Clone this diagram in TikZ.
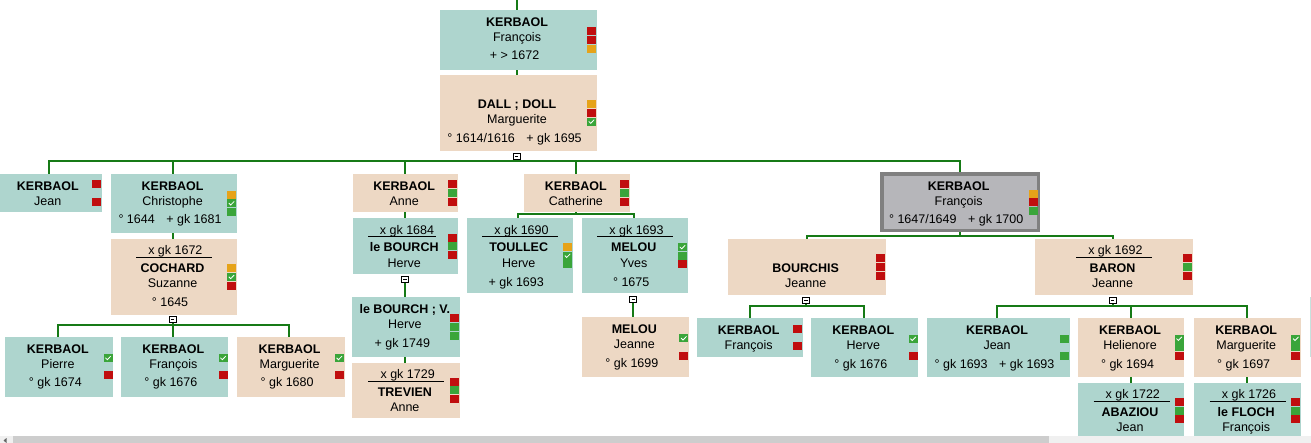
\documentclass[tikz,border=0pt]{standalone}
\usepackage{fontspec}
\setmainfont{Liberation Sans}
\usetikzlibrary{backgrounds}
\definecolor{teal1}{RGB}{174,213,206}
\definecolor{peach}{RGB}{237,216,196}
\definecolor{selg}{RGB}{182,182,186}
\definecolor{selb}{RGB}{128,128,128}
\definecolor{sqr}{RGB}{192,14,14}
\definecolor{sqg}{RGB}{58,165,58}
\definecolor{sqo}{RGB}{230,163,25}
\definecolor{lineg}{RGB}{22,122,22}
\definecolor{sbtrack}{RGB}{240,240,240}
\definecolor{sbthumb}{RGB}{205,205,205}
\tikzset{
  pbox/.style={rectangle, inner sep=0pt, outer sep=0pt, draw=none, anchor=north west},
  tealbox/.style={pbox, fill=teal1},
  peachbox/.style={pbox, fill=peach},
  selbox/.style={pbox, fill=selg, draw=selb, line width=3.5pt},
  tx/.style={anchor=base, inner sep=0pt, outer sep=0pt, font=\fontsize{12.5}{15}\selectfont, text=black},
  nm/.style={tx, font=\fontsize{12.5}{15}\selectfont\bfseries},
  sqbase/.style={rectangle, anchor=north east, minimum width=9pt, minimum height=8pt, inner sep=0pt, outer sep=0pt, draw=none},
  sqR/.style={sqbase, fill=sqr},
  sqG/.style={sqbase, fill=sqg},
  sqO/.style={sqbase, fill=sqo},
  sqC/.style={sqbase, fill=sqg, path picture={\draw[white, line width=0.8pt] ([shift={(-2.7,-0.2)}]path picture bounding box.center) -- ++(1.9,1.9) -- ++(3.5,-3.6);}},
  conn/.style={draw=lineg, line width=2.2pt},
  minusbox/.style={rectangle, draw=black, fill=white, line width=0.9pt, minimum width=7.2pt, minimum height=6.2pt, inner sep=0pt, path picture={\draw[black, line width=0.9pt] ([xshift=-1.7pt]path picture bounding box.center) -- ([xshift=1.7pt]path picture bounding box.center);}},
}
\newcommand\PBox[6]{\node[#2, minimum width={(#5)-(#3)}, minimum height={(#6)-(#4)}] (#1) at (#3,#4) {};}
\newcommand\DGap{\hspace{11.5pt}}
\newcommand\MLine[3]{\makebox[0pt]{\kern#3pt\kern#3pt\rule[-3pt]{#2pt}{1pt}}\makebox[0pt]{\kern2.6pt #1}}
\newcommand\TxtA[4]{%
  \node[nm] (#1-n) at ([shift={(-1.3,16.3)}]#1.north) {#2};
  \node[tx] (#1-f) at ([shift={(-1.3,31.6)}]#1.north) {#3};
  \if\relax\detokenize{#4}\relax\else\node[tx] (#1-d) at ([shift={(-3.8,49.8)}]#1.north) {#4};\fi}
\newcommand\TxtB[5]{%
  \if\relax\detokenize{#2}\relax\else\node[tx] (#1-m) at ([shift={(0.2,16)}]#1.north) {#2};\fi
  \node[nm] (#1-n) at ([shift={(-1.3,33.5)}]#1.north) {#3};
  \node[tx] (#1-f) at ([shift={(-1.3,48.8)}]#1.north) {#4};
  \if\relax\detokenize{#5}\relax\else\node[tx] (#1-d) at ([shift={(-3.8,68)}]#1.north) {#5};\fi}
\newcommand\SqOne[3]{\if\relax\detokenize{#3}\relax\else\node[sq#3] (#1-s#2) at ([shift={(-0.7,-12.7+8.65*#2)}]#1.east) {};\fi}
\newcommand\SqSet[4]{\SqOne{#1}{0}{#2}\SqOne{#1}{1}{#3}\SqOne{#1}{2}{#4}}
\begin{document}
\begin{tikzpicture}[x=1pt,y=-1pt]
\useasboundingbox (0,0) rectangle (1311,443);
% boxes
\PBox{b1}{tealbox}{440}{10}{596.7}{70}
\PBox{b2}{peachbox}{440}{75}{596.7}{151}
\PBox{jean}{tealbox}{-3.5}{174}{101.7}{212.3}
\PBox{chris}{tealbox}{111}{174}{236.7}{232.7}
\PBox{coch}{peachbox}{111}{239}{236.7}{315}
\PBox{kp}{tealbox}{5}{336.7}{113.3}{396.7}
\PBox{kfr}{tealbox}{121}{336.7}{228.3}{396.7}
\PBox{kmg}{peachbox}{237.3}{336.7}{344.5}{396.7}
\PBox{anne}{peachbox}{353.3}{174}{457.7}{212.3}
\PBox{lb1}{tealbox}{353.3}{218.3}{457.7}{274.3}
\PBox{lb2}{tealbox}{352.3}{297.3}{460}{356.7}
\PBox{trev}{peachbox}{352.3}{362.7}{460}{418.3}
\PBox{cath}{peachbox}{524.3}{174}{630}{212.3}
\PBox{toul}{tealbox}{467.3}{218.3}{572.7}{293.3}
\PBox{mel}{tealbox}{582.3}{218.3}{687.7}{293.3}
\PBox{melj}{peachbox}{582.3}{317.3}{689}{376.7}
\PBox{fran}{selbox}{881.75}{174.05}{1038.25}{230.55}
\PBox{bchis}{peachbox}{728.3}{239}{885.7}{295}
\PBox{baron}{peachbox}{1035}{239}{1192.7}{295}
\PBox{kf}{tealbox}{697.3}{318.3}{802.7}{356.7}
\PBox{kh}{tealbox}{811}{318.3}{918.3}{376.7}
\PBox{kj}{tealbox}{926.7}{318.3}{1070}{376.7}
\PBox{khe}{peachbox}{1078.3}{318.3}{1184.3}{376.7}
\PBox{kma}{peachbox}{1194}{318.3}{1301}{376.7}
\PBox{abaz}{tealbox}{1078.3}{382.7}{1184.3}{438.7}
\PBox{floch}{tealbox}{1194}{382.7}{1301}{438.7}
\fill[teal1!70!white] (1309.5,297) rectangle (1312,357);
% texts
\TxtA{b1}{KERBAOL}{François}{+ > 1672}
\TxtB{b2}{}{DALL ; DOLL}{Marguerite}{° 1614/1616\DGap+ gk 1695}
\TxtA{jean}{KERBAOL}{Jean}{}
\TxtA{chris}{KERBAOL}{Christophe}{° 1644\DGap+ gk 1681}
\TxtB{coch}{\MLine{x gk 1672}{76}{0}}{COCHARD}{Suzanne}{° 1645}
\TxtA{kp}{KERBAOL}{Pierre}{° gk 1674}
\TxtA{kfr}{KERBAOL}{François}{° gk 1676}
\TxtA{kmg}{KERBAOL}{Marguerite}{° gk 1680}
\TxtA{anne}{KERBAOL}{Anne}{}
\TxtB{lb1}{\MLine{x gk 1684}{68}{-3.5}}{le BOURCH}{Herve}{}
\TxtA{lb2}{le BOURCH ; V.}{Herve}{+ gk 1749}
\TxtB{trev}{\MLine{x gk 1729}{76}{0}}{TREVIEN}{Anne}{}
\TxtA{cath}{KERBAOL}{Catherine}{}
\TxtB{toul}{\MLine{x gk 1690}{76}{0}}{TOULLEC}{Herve}{+ gk 1693}
\TxtB{mel}{\MLine{x gk 1693}{76}{0}}{MELOU}{Yves}{° 1675}
\TxtA{melj}{MELOU}{Jeanne}{° gk 1699}
\TxtA{fran}{KERBAOL}{François}{° 1647/1649\DGap+ gk 1700}
\TxtB{bchis}{}{BOURCHIS}{Jeanne}{}
\TxtB{baron}{\MLine{x gk 1692}{76}{0}}{BARON}{Jeanne}{}
\TxtA{kf}{KERBAOL}{François}{}
\TxtA{kh}{KERBAOL}{Herve}{° gk 1676}
\TxtA{kj}{KERBAOL}{Jean}{° gk 1693\DGap+ gk 1693}
\TxtA{khe}{KERBAOL}{Helienore}{° gk 1694}
\TxtA{kma}{KERBAOL}{Marguerite}{° gk 1697}
\TxtB{abaz}{\MLine{x gk 1722}{76}{0}}{ABAZIOU}{Jean}{}
\TxtB{floch}{\MLine{x gk 1726}{76}{0}}{le FLOCH}{François}{}
% status squares
\SqSet{b1}{R}{R}{O}
\SqSet{b2}{O}{R}{C}
\SqSet{jean}{R}{}{R}
\SqSet{chris}{O}{C}{G}
\SqSet{coch}{O}{C}{R}
\SqSet{kp}{C}{}{R}
\SqSet{kfr}{C}{}{R}
\SqSet{kmg}{C}{}{R}
\SqSet{anne}{R}{G}{R}
\SqSet{lb1}{R}{G}{R}
\SqSet{lb2}{R}{G}{G}
\SqSet{trev}{R}{G}{R}
\SqSet{cath}{R}{G}{R}
\SqSet{toul}{O}{C}{G}
\SqSet{mel}{C}{G}{R}
\SqSet{melj}{C}{}{R}
\SqSet{fran}{O}{R}{G}
\SqSet{bchis}{R}{R}{R}
\SqSet{baron}{R}{G}{R}
\SqSet{kf}{R}{}{R}
\SqSet{kh}{C}{}{R}
\SqSet{kj}{G}{}{G}
\SqSet{khe}{C}{G}{R}
\SqSet{kma}{C}{G}{R}
\SqSet{abaz}{R}{G}{R}
\SqSet{floch}{R}{G}{R}
% collapse toggles
\node[minusbox] (m1) at (516.7,156.3) {};
\node[minusbox] (m2) at (172.7,319.3) {};
\node[minusbox] (m3) at (405,279.7) {};
\node[minusbox] (m4) at (633.3,299.2) {};
\node[minusbox] (m5) at (806,300.3) {};
\node[minusbox] (m6) at (1112.7,300.3) {};
% connectors
\begin{pgfonlayer}{background}
\fill[white] (0,0) rectangle (1311,443);
\coordinate (top) at (516.7,0);
\draw[conn] (top) -- (top |- b1.north);
\draw[conn] (top |- b1.south) -- (top |- b2.north);
\coordinate (bar1) at (516.7,161);
\draw[conn] (m1.south) -- (bar1);
\draw[conn] (bar1) -| (jean.north);
\draw[conn] (bar1) -| ([xshift=-1.15pt]chris.north);
\draw[conn] (bar1) -| ([xshift=-0.5pt]anne.north);
\draw[conn] (bar1) -| ([xshift=-1.45pt]cath.north);
\draw[conn] (bar1) -| (fran.north);
\draw[conn] ([xshift=-1.15pt]chris.south) -- ([xshift=-1.15pt]coch.north);
\coordinate (bar2) at (172.7,325);
\draw[conn] (m2.south) -- (bar2);
\draw[conn] (bar2) -| ([xshift=-0.85pt]kp.north);
\draw[conn] (bar2) -| ([xshift=-1.95pt]kfr.north);
\draw[conn] (bar2) -| ([xshift=-2.2pt]kmg.north);
\draw[conn] ([xshift=-0.5pt]anne.south) -- ([xshift=-0.5pt]lb1.north);
\draw[conn] (m3.south) -- (m3.south |- lb2.north);
\draw[conn] ([xshift=-1.15pt]lb2.south) -- ([xshift=-1.15pt]trev.north);
\coordinate (bar3) at (575.7,214);
\draw[conn] ([xshift=-1.45pt]cath.south) -- (bar3);
\draw[conn] (bar3) -| ([xshift=-1.7pt]toul.north);
\draw[conn] (bar3) -| ([xshift=-0.7pt]mel.north);
\draw[conn] (m4.south) -- (m4.south |- melj.north);
\coordinate (bar4) at (960,236);
\draw[conn] (fran.south) -- (bar4);
\draw[conn] (bar4) -| ([xshift=-0.3pt]bchis.north);
\draw[conn] (bar4) -| ([xshift=-0.85pt]baron.north);
\coordinate (bar5) at (806,306);
\draw[conn] (m5.south) -- (bar5);
\draw[conn] (bar5) -| (kf.north);
\draw[conn] (bar5) -| ([xshift=-0.65pt]kh.north);
\coordinate (bar6) at (1112.7,306);
\draw[conn] (m6.south) -- (bar6);
\draw[conn] (bar6) -| ([xshift=-1.05pt]kj.north);
\draw[conn] (bar6) -| ([xshift=-0.6pt]khe.north);
\draw[conn] (bar6) -| ([xshift=-0.2pt]kma.north);
\draw[conn] ([xshift=-0.6pt]khe.south) -- ([xshift=-0.6pt]abaz.north);
\draw[conn] ([xshift=-0.8pt]kma.south) -- ([xshift=-0.8pt]floch.north);
\end{pgfonlayer}
% scrollbar of the window
\fill[sbtrack] (0,436) rectangle (1311,443);
\fill[sbthumb] (13,436) rectangle (1049,443);
\fill[black!60] (3.5,440.5) -- (6.5,438) -- (6.5,443) -- cycle;
\end{tikzpicture}
\end{document}
